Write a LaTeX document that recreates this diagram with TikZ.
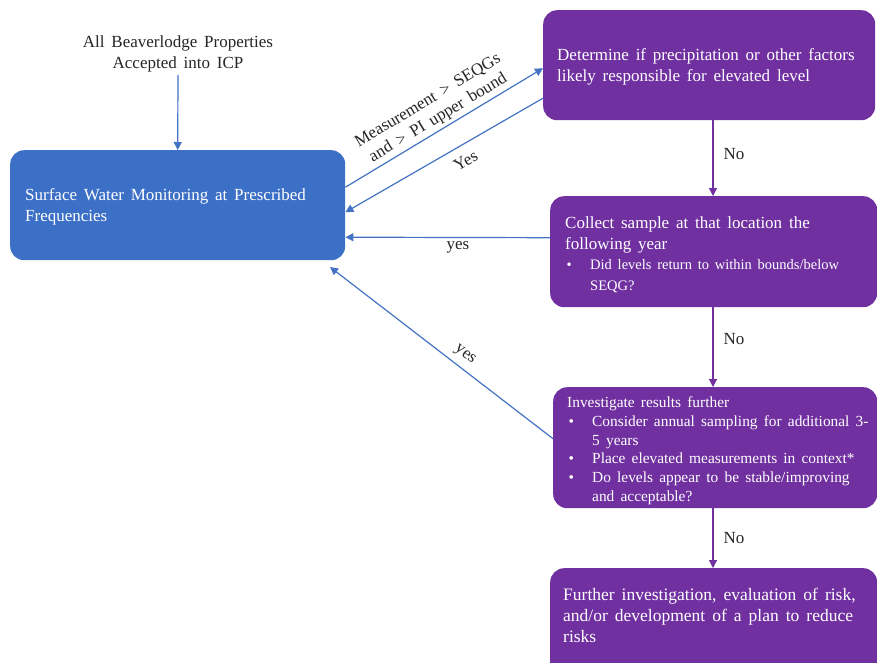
\documentclass[tikz,border=0pt]{standalone}
\usepackage{fontspec}
\setmainfont{Liberation Serif}[WordSpace=1.6]
\usetikzlibrary{arrows.meta,calc}
\definecolor{boxblue}{RGB}{60,112,198}
\definecolor{lineblue}{RGB}{68,114,196}
\definecolor{boxpurple}{RGB}{112,48,160}
\newcommand\mybul{\makebox[25pt][l]{\hspace{1.5pt}\textbullet}}
\newcommand\myind{\hspace*{25pt}}
\newcommand\bulfont{\fontsize{14.5pt}{20.5pt}\selectfont}
\begin{document}
\begin{tikzpicture}[x=1pt,y=-1pt,
  bluebox/.style={draw=none,fill=boxblue,rounded corners=14pt,anchor=north west,inner sep=0pt},
  purplebox/.style={draw=none,fill=boxpurple,rounded corners=14pt,anchor=north west,inner sep=0pt},
  boxtext/.style={text=white,align=left,anchor=west,inner sep=0pt,font=\fontsize{17pt}{21pt}\selectfont},
  lbl/.style={font=\fontsize{17pt}{20pt}\selectfont,text=black!85,inner sep=2pt},
  barrow/.style={draw=lineblue,line width=1.2pt,-{Triangle[length=8pt,width=8pt]}},
  parrow/.style={draw=boxpurple,line width=1.2pt,-{Triangle[length=8pt,width=8pt]}}]
\useasboundingbox (0,0) rectangle (877,662);
\clip (0,0) rectangle (877,662);
\fill[white] (0,0) rectangle (877,662);

% boxes
\node[bluebox,minimum width=335pt,minimum height=110pt] (blue) at (10,150) {};
\node[purplebox,minimum width=332pt,minimum height=110pt] (b1) at (543,10) {};
\node[purplebox,minimum width=327pt,minimum height=111pt] (b2) at (550,196) {};
\node[purplebox,minimum width=324pt,minimum height=121pt] (b3) at (553,387) {};
\node[purplebox,minimum width=327pt,minimum height=110pt] (b4) at (550,568) {};

% texts
\node[align=center,inner sep=0pt,font=\fontsize{17pt}{21pt}\selectfont,text=black!85] (top) at (178,54)
  {All Beaverlodge Properties\\Accepted into ICP};
\node[boxtext] (bluet) at ([xshift=15pt,yshift=-2pt]blue.west) {Surface Water Monitoring at Prescribed\\Frequencies};
\node[boxtext] (b1t) at ([xshift=14pt,yshift=-2pt]b1.west) {Determine if precipitation or other factors\\likely responsible for elevated level};
\node[boxtext,font=\fontsize{17pt}{20.5pt}\selectfont] (b2t) at ([xshift=15pt,yshift=-3pt]b2.west)
  {Collect sample at that location the\\following year\\
   \bulfont\mybul Did levels return to within bounds/below\\
   \bulfont\myind SEQG?};
\node[boxtext,font=\fontsize{15.4pt}{18.8pt}\selectfont] (b3t) at ([xshift=14pt,yshift=-3pt]b3.west)
  {Investigate results further\\
   \mybul Consider annual sampling for additional 3-\\
   \myind 5 years\\
   \mybul Place elevated measurements in context*\\
   \mybul Do levels appear to be stable/improving\\
   \myind and acceptable?};
\node[boxtext,anchor=north west,font=\fontsize{17.5pt}{21pt}\selectfont] (b4t) at (563,588) {Further investigation, evaluation of risk,\\and/or development of a plan to reduce\\risks};

% connectors
\coordinate (col) at (713,0);
\coordinate (bb) at (330,267);
\draw[barrow] (top.south |- 0,75) -- (blue.north);
\draw[barrow] ([yshift=18pt]blue.east) -- node[lbl,sloped,above=3pt,align=center,pos=0.5,inner sep=0pt] (m1) {Measurement > SEQGs\\and > PI upper bound} ([yshift=-3pt]b1.west);
\draw[barrow] ([yshift=-33pt]b1.west) -- node[lbl,sloped,below=9pt,pos=0.43,inner sep=0pt] (y1) {Yes} ([yshift=-7pt]blue.east);
\draw[barrow] ([yshift=14pt]b2.west) -- node[lbl,below=3pt,pos=0.45,inner sep=0pt] (y2) {yes} ([yshift=-32pt]blue.east);
\draw[barrow] ([yshift=9pt]b3.west) -- node[lbl,sloped,above=6pt,pos=0.43,inner sep=0pt] (y3) {yes} (bb);
\draw[parrow] (b1.south -| col) -- node[lbl,right,pos=0.45,xshift=8pt] (n1) {No} (b2.north -| col);
\draw[parrow] (b2.south -| col) -- node[lbl,right,pos=0.4,xshift=8pt] (n2) {No} (b3.north -| col);
\draw[parrow] (b3.south -| col) -- node[lbl,right,pos=0.5,xshift=8pt] (n3) {No} (b4.north -| col);
\end{tikzpicture}
\end{document}
